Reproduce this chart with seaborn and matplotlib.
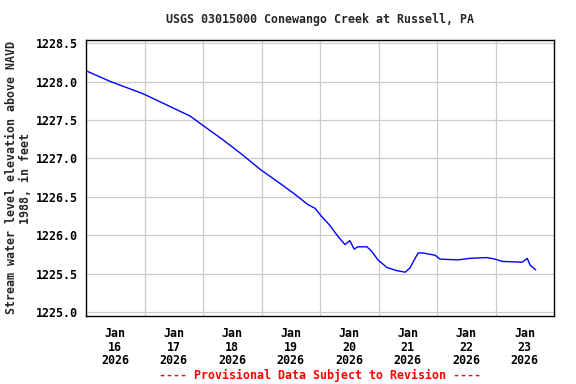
import numpy as np
import pandas as pd
import matplotlib
matplotlib.use("Agg")
import matplotlib.pyplot as plt
import matplotlib.dates as mdates
import seaborn as sns

# hours since 2026-01-16 00:00 and gage height (ft NAVD88)
hours = [0, 10, 23.5, 42.75, 47.5, 56.25, 63.25, 71.75, 78.5, 85, 91, 94,
         96.5, 100, 103.5, 106.25, 108.25, 110, 111.5, 115.25, 117.25, 119.75,
         123.5, 127.5, 131, 133, 135, 136.25, 138.25, 143.25, 145.25, 152.5,
         157.5, 164.5, 167.75, 170.75, 179, 181, 182.25, 184.5]
elev = [1228.14, 1228.00, 1227.84, 1227.55, 1227.44, 1227.24, 1227.07, 1226.85,
        1226.70, 1226.55, 1226.40, 1226.35, 1226.25, 1226.13, 1225.98, 1225.88,
        1225.93, 1225.82, 1225.85, 1225.85, 1225.79, 1225.68, 1225.58, 1225.54,
        1225.52, 1225.58, 1225.70, 1225.77, 1225.77, 1225.74, 1225.69, 1225.68,
        1225.70, 1225.71, 1225.69, 1225.66, 1225.65, 1225.70, 1225.61, 1225.55]

start = pd.Timestamp("2026-01-16")
df = pd.DataFrame({"time": start + pd.to_timedelta(hours, unit="h"), "elev": elev})

sns.set_style("white")
plt.rcParams["font.family"] = ["DejaVu Sans Mono"]
plt.rcParams["font.weight"] = "bold"

fig = plt.figure(figsize=(5.76, 3.84), dpi=100)
ax = fig.add_axes([86 / 576, 1 - 316 / 384, 468 / 576, 276 / 384])

sns.lineplot(data=df, x="time", y="elev", ax=ax, color="#0000ff", linewidth=1)

ax.set_xlim(start, start + pd.Timedelta(days=8))
ax.set_ylim(1224.95, 1228.54)

# grid at midnights, labels at noon
ax.set_xticks([start + pd.Timedelta(days=d) for d in range(1, 8)])
ax.set_xticks([start + pd.Timedelta(days=d, hours=12) for d in range(8)], minor=True)
ax.xaxis.set_major_formatter(plt.NullFormatter())
ax.xaxis.set_minor_formatter(mdates.DateFormatter("%b\n%d\n%Y"))
ax.set_yticks(np.arange(1225.0, 1228.51, 0.5))
ax.yaxis.set_major_formatter(matplotlib.ticker.FormatStrFormatter("%.1f"))

ax.grid(True, which="major", color="#cccccc", linewidth=0.9)
ax.tick_params(axis="both", which="both", length=0, labelsize=8.4, colors="black")
ax.tick_params(axis="y", pad=6)
ax.tick_params(axis="x", which="minor", pad=8)
for lab in ax.get_xticklabels(minor=True):
    lab.set_linespacing(1.05)
for sp in ax.spines.values():
    sp.set_color("black")
    sp.set_linewidth(1)

ax.set_xlabel("")
ax.set_ylabel("Stream water level elevation above NAVD\n1988, in feet",
              fontsize=8.4, fontweight="bold", labelpad=3, linespacing=1.0)
ax.set_title("USGS 03015000 Conewango Creek at Russell, PA", fontsize=8.4,
             fontweight="bold", pad=12)

fig.text(0.555, 1 - 375 / 384, "---- Provisional Data Subject to Revision ----",
         color="red", fontsize=8.4, fontweight="bold", ha="center", va="center")

fig.savefig("out.png", dpi=100)
